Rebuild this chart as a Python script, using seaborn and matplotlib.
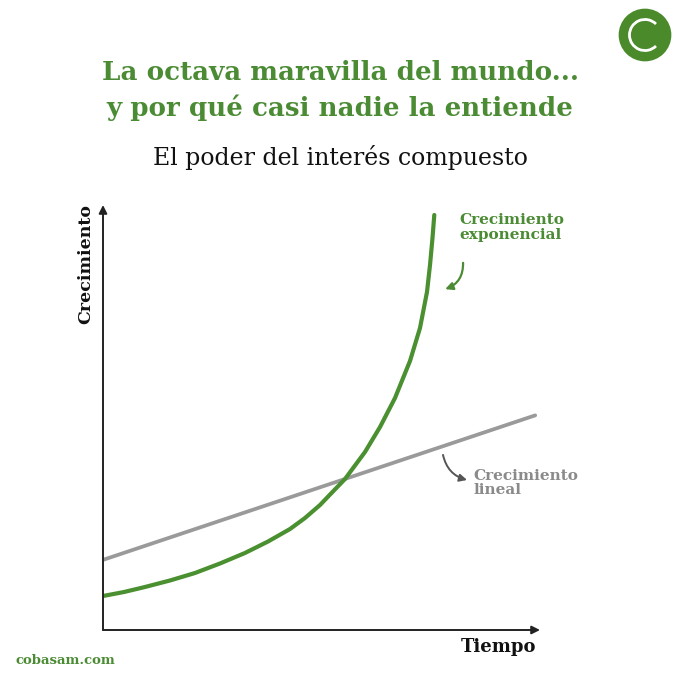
import numpy as np
import pandas as pd
import matplotlib
matplotlib.use("Agg")
import matplotlib.pyplot as plt
from matplotlib.patches import Circle, Arc
import seaborn as sns

# Values (time 0-100, growth 0-100)
time_exp = [0, 4.81, 9.61, 15.33, 21.05, 26.77, 32.49, 37.76, 42.79, 46.22, 49.66, 52.4,
            55.38, 59.95, 63.39, 66.82, 70.25, 72.54, 74.14, 74.83, 75.40, 75.81]
growth_exp = [8.0, 8.94, 10.12, 11.65, 13.41, 15.65, 18.12, 20.82, 23.76, 26.35, 29.41, 32.35,
              35.53, 41.88, 47.76, 54.59, 63.29, 71.06, 79.53, 85.88, 92.24, 97.65]
time_lin = [0, 98.9]
growth_lin = [16.5, 50.5]

title_lines = ["La octava maravilla del mundo...", "y por qué casi nadie la entiende"]
subtitle = "El poder del interés compuesto"
label_exp = "Crecimiento\nexponencial"
label_lin = "Crecimiento\nlineal"

GREEN = "#4b8b34"
LINE_GREEN = "#4a9030"
GRAY = "#9a9a9a"
SERIF = ["DejaVu Serif"]

sns.set_style("white")
plt.rcParams["font.family"] = SERIF

fig = plt.figure(figsize=(6.8, 6.8), dpi=100)
ax = fig.add_axes([103 / 680, 50 / 680, 437 / 680, 425 / 680])

df_exp = pd.DataFrame({"Tiempo": time_exp, "Crecimiento": growth_exp})
df_lin = pd.DataFrame({"Tiempo": time_lin, "Crecimiento": growth_lin})
sns.lineplot(data=df_lin, x="Tiempo", y="Crecimiento", ax=ax, color=GRAY, linewidth=2.7)
sns.lineplot(data=df_exp, x="Tiempo", y="Crecimiento", ax=ax, color=LINE_GREEN,
             linewidth=3.0, solid_joinstyle="round", solid_capstyle="round")

ax.set_xlim(0, 100)
ax.set_ylim(0, 100)
ax.set_xticks([])
ax.set_yticks([])
ax.set_xlabel("")
ax.set_ylabel("")
for s in ax.spines.values():
    s.set_visible(False)

# axes with arrow heads
arrow_kw = dict(arrowstyle="-|>", color="#222222", lw=1.4, mutation_scale=12, shrinkA=0, shrinkB=0)
ax.annotate("", xy=(100, 0), xytext=(0, 0), arrowprops=arrow_kw, annotation_clip=False)
ax.annotate("", xy=(0, 100), xytext=(0, 0), arrowprops=arrow_kw, annotation_clip=False)

ax.text(-4, 86, "Crecimiento", rotation=90, ha="center", va="center",
        fontsize=12.5, fontweight="bold", color="#111111")
ax.text(90.5, -4, "Tiempo", ha="center", va="center",
        fontsize=13, fontweight="bold", color="#111111")

# annotations
ax.text(81.5, 98, label_exp, ha="left", va="top", fontsize=11,
        fontweight="bold", color=GREEN, linespacing=1.05)
ax.annotate("", xy=(78.3, 80.2), xytext=(82.4, 86.4),
            arrowprops=dict(arrowstyle="-|>", color=GREEN, lw=1.6, mutation_scale=11,
                            connectionstyle="arc3,rad=-0.35", shrinkA=0, shrinkB=0))
ax.text(84.7, 38, label_lin, ha="left", va="top", fontsize=11,
        fontweight="bold", color="#8a8a8a", linespacing=1.05)
ax.annotate("", xy=(83.3, 35.3), xytext=(77.8, 41.2),
            arrowprops=dict(arrowstyle="-|>", color="#555555", lw=1.4, mutation_scale=11,
                            connectionstyle="arc3,rad=0.3", shrinkA=0, shrinkB=0))

# titles
fig.text(0.5, 1 - 72 / 680, title_lines[0], ha="center", va="center",
         fontsize=18.8, fontweight="bold", color=GREEN)
fig.text(0.5, 1 - 108 / 680, title_lines[1], ha="center", va="center",
         fontsize=18.8, fontweight="bold", color=GREEN)
fig.text(0.5, 1 - 157 / 680, subtitle, ha="center", va="center",
         fontsize=17, color="#111111")
fig.text(15 / 680, 1 - 660 / 680, "cobasam.com", ha="left", va="center",
         fontsize=9.5, fontweight="bold", color=GREEN)

# logo
lax = fig.add_axes([618 / 680, 1 - 62 / 680, 54 / 680, 54 / 680])
lax.set_xlim(-1, 1)
lax.set_ylim(-1, 1)
lax.set_aspect("equal")
lax.axis("off")
lax.add_patch(Circle((0, 0), 0.95, color="#4a8a2a"))
lax.add_patch(Arc((0, 0), 1.15, 1.15, theta1=45, theta2=315, color="white", lw=2.0))

fig.savefig("out.png", dpi=100, facecolor="white")
